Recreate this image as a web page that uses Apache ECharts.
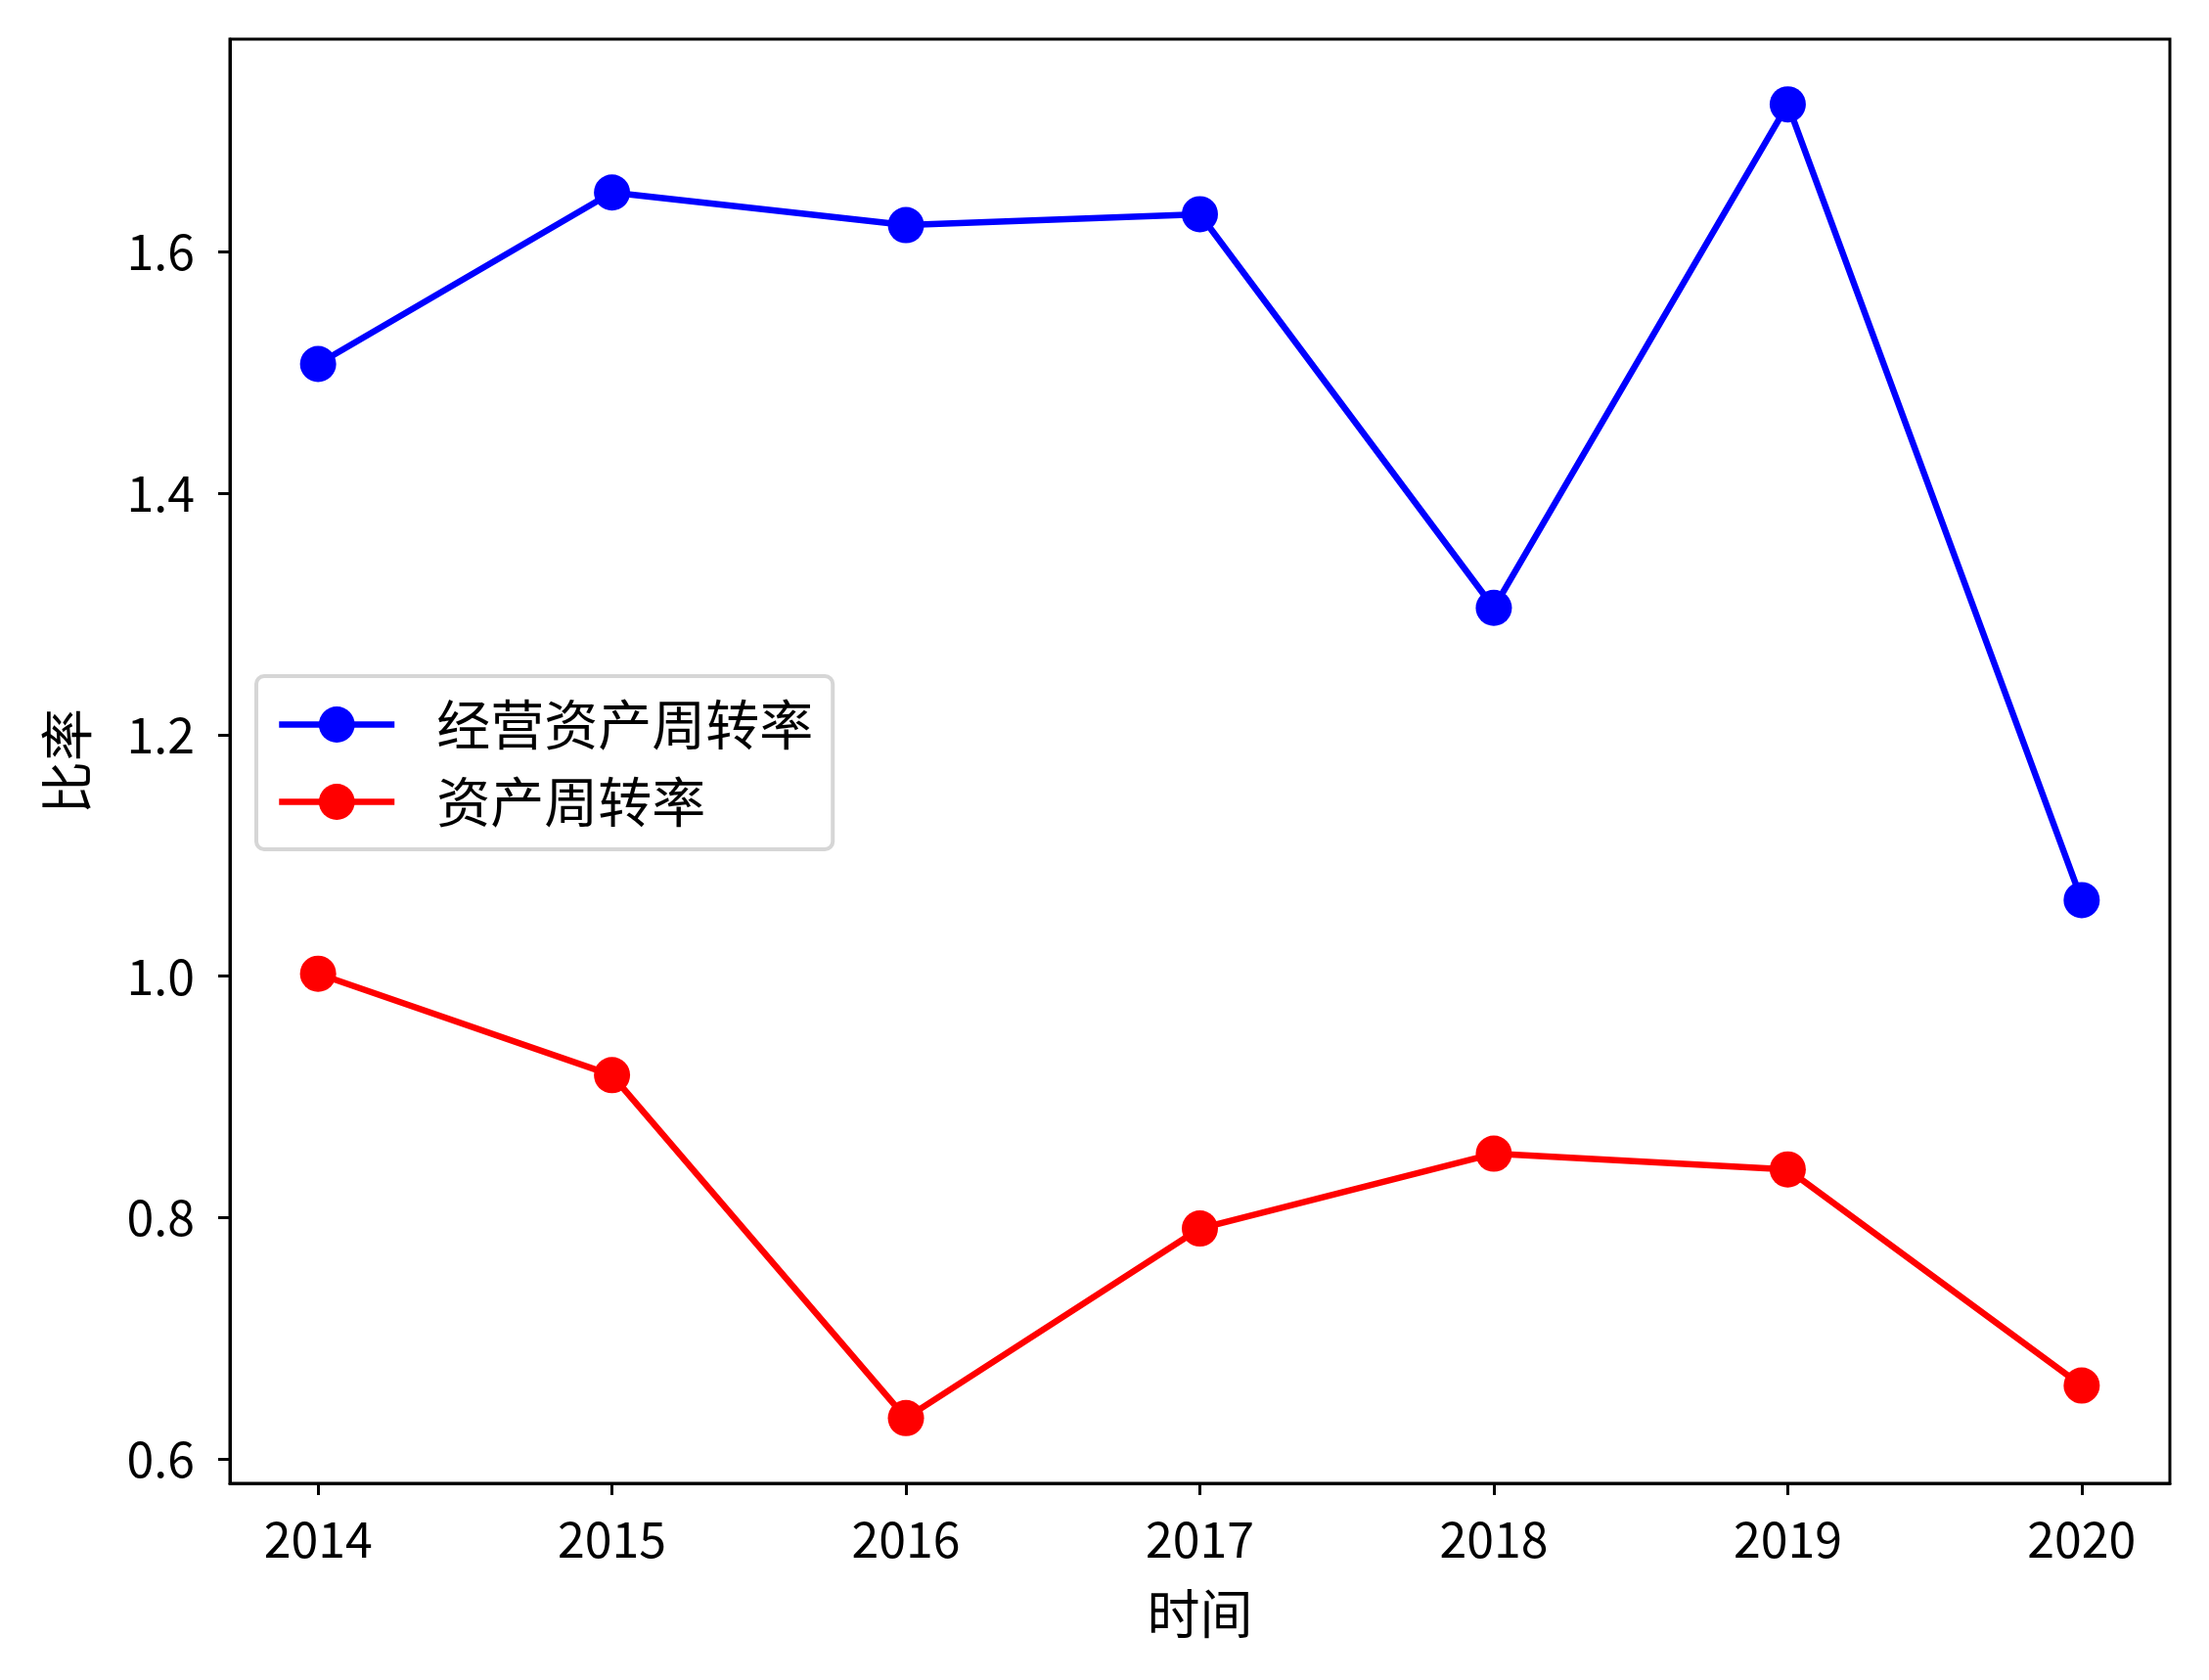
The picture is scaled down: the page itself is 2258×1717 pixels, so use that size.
<!DOCTYPE html>
<html>
<head>
<meta charset="utf-8">
<script src="https://cdn.jsdelivr.net/npm/echarts@6/dist/echarts.min.js"></script>
<style>
html,body{margin:0;padding:0;background:#fff;}
#c{width:2258px;height:1717px;}
</style>
</head>
<body>
<div id="c"></div>
<script>
const years = [2014, 2015, 2016, 2017, 2018, 2019, 2020];
const operatingTurnover = [1.507, 1.649, 1.622, 1.631, 1.305, 1.722, 1.063];
const assetTurnover = [1.002, 0.918, 0.634, 0.791, 0.853, 0.840, 0.661];
const yTicks = [0.6, 0.8, 1.0, 1.2, 1.4, 1.6];
const seriesNames = ['经营资产周转率', '资产周转率'];

const FONT = '"Noto Sans CJK SC", "Noto Sans", sans-serif';
const chart = echarts.init(document.getElementById('c'), null, {renderer: 'canvas'});

function pairs(vals) { return years.map((y, i) => [y, vals[i]]); }

chart.setOption({
  animation: false,
  backgroundColor: '#fff',
  textStyle: {fontFamily: FONT},
  grid: {left: 235, right: 40, top: 40, bottom: 201, show: true, borderColor: '#000', borderWidth: 3, backgroundColor: 'transparent'},
  xAxis: {
    type: 'value', min: 2013.7, max: 2020.3,
    name: '时间', nameLocation: 'middle', nameGap: 106,
    nameTextStyle: {fontSize: 54, color: '#000', fontFamily: FONT},
    axisLine: {show: true, onZero: false, lineStyle: {color: '#000', width: 3}},
    axisTick: {show: true, length: 12, lineStyle: {color: '#000', width: 3}, customValues: years},
    axisLabel: {fontSize: 50, color: '#000', margin: 32, fontFamily: FONT, customValues: years, formatter: v => String(Math.round(v))},
    splitLine: {show: false}
  },
  yAxis: {
    type: 'value', min: 0.58, max: 1.776,
    name: '比率', nameLocation: 'middle', nameGap: 140, nameRotate: 90,
    nameTextStyle: {fontSize: 54, color: '#000', fontFamily: FONT},
    axisLine: {show: true, onZero: false, lineStyle: {color: '#000', width: 3}},
    axisTick: {show: true, length: 12, lineStyle: {color: '#000', width: 3}, customValues: yTicks},
    axisLabel: {fontSize: 50, color: '#000', margin: 36, fontFamily: FONT, customValues: yTicks, formatter: v => v.toFixed(1)},
    splitLine: {show: false}
  },
  legend: {
    orient: 'vertical', left: 262, top: 691,
    itemWidth: 118, itemHeight: 46, itemGap: 24,
    padding: [22, 20, 21, 20],
    backgroundColor: 'rgba(255,255,255,0.8)',
    borderColor: '#d6d6d6', borderWidth: 4, borderRadius: 8,
    lineStyle: {width: 6.5},
    textStyle: {fontSize: 55, color: '#000', fontFamily: FONT, padding: [0, 0, 0, 38]},
    data: seriesNames
  },
  series: [
    {name: seriesNames[0], type: 'line', data: pairs(operatingTurnover), symbol: 'circle', symbolSize: 37,
     lineStyle: {color: '#0000ff', width: 6.5}, itemStyle: {color: '#0000ff'}},
    {name: seriesNames[1], type: 'line', data: pairs(assetTurnover), symbol: 'circle', symbolSize: 37,
     lineStyle: {color: '#ff0000', width: 6.5}, itemStyle: {color: '#ff0000'}}
  ]
});
</script>
</body>
</html>
